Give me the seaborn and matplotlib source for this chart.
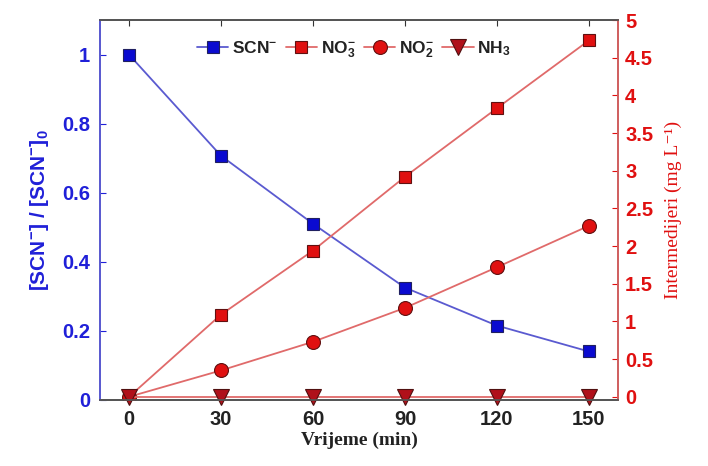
import numpy as np
import pandas as pd
import seaborn as sns
import matplotlib.pyplot as plt

# data
vrijeme = [0, 30, 60, 90, 120, 150]
scn = [1.0, 0.707, 0.51, 0.325, 0.215, 0.14]
no3 = [0.0, 1.09, 1.94, 2.92, 3.83, 4.73]
no2 = [0.0, 0.35, 0.73, 1.18, 1.72, 2.27]
nh3 = [0.0, 0.0, 0.0, 0.0, 0.0, 0.0]
x_ticks = [0, 30, 60, 90, 120, 150]
left_ticks = [0, 0.2, 0.4, 0.6, 0.8, 1.0]
right_ticks = [0, 0.5, 1, 1.5, 2, 2.5, 3, 3.5, 4, 4.5, 5]

sns.set_style("white")
plt.rcParams['font.family'] = ['Liberation Sans', 'DejaVu Sans']
plt.rcParams['mathtext.fontset'] = 'custom'
plt.rcParams['mathtext.rm'] = 'Liberation Sans:bold'
plt.rcParams['mathtext.it'] = 'Liberation Sans:bold'
plt.rcParams['mathtext.bf'] = 'Liberation Sans:bold'

blue = '#2020d8'
blue_line = '#5a5ad0'
red = '#e01010'
red_line = '#e06a6a'
dark_red = '#b0101a'

fig = plt.figure(figsize=(7.08, 4.66), dpi=100)
ax = fig.add_axes([0.141, 0.142, 0.732, 0.815])
ax2 = ax.twinx()

df = pd.DataFrame({'t': vrijeme, 'scn': scn, 'no3': no3, 'no2': no2, 'nh3': nh3})

sns.lineplot(data=df, x='t', y='scn', ax=ax, color=blue_line, lw=1.3,
             marker='s', markersize=8, markerfacecolor='#0a0ad0',
             markeredgecolor='#202060', markeredgewidth=0.8, label='SCN$^{-}$', legend=False)
sns.lineplot(data=df, x='t', y='no3', ax=ax2, color=red_line, lw=1.3,
             marker='s', markersize=8, markerfacecolor=red,
             markeredgecolor='#601010', markeredgewidth=0.8, label='NO$_3^{-}$', legend=False)
sns.lineplot(data=df, x='t', y='no2', ax=ax2, color=red_line, lw=1.3,
             marker='o', markersize=10, markerfacecolor=red,
             markeredgecolor='#601010', markeredgewidth=0.8, label='NO$_2^{-}$', legend=False)
sns.lineplot(data=df, x='t', y='nh3', ax=ax2, color=red_line, lw=1.3,
             marker='v', markersize=11, markerfacecolor=dark_red,
             markeredgecolor='#501010', markeredgewidth=0.8, label='NH$_3$', legend=False,
             clip_on=False)

ax.set_xlim(-9.5, 159.5)
ax.set_ylim(0, 1.1)
ax2.set_ylim(-0.04, 5)
ax.set_xticks(x_ticks)
ax.set_yticks(left_ticks)
ax.set_yticklabels(['0', '0.2', '0.4', '0.6', '0.8', '1'])
ax2.set_yticks(right_ticks)
ax2.set_yticklabels(['0', '0.5', '1', '1.5', '2', '2.5', '3', '3.5', '4', '4.5', '5'])

ax.tick_params(axis='x', direction='in', length=4, labelsize=14.5, top=True,
               colors='#333333', labelcolor='#222222', pad=7)
ax.tick_params(axis='y', direction='in', length=4, labelsize=14.5, colors=blue,
               labelcolor=blue, pad=7)
ax2.tick_params(axis='y', direction='in', length=4, labelsize=14.5, colors=red,
                labelcolor=red, pad=5)
for a in (ax, ax2):
    for lab in a.get_xticklabels() + a.get_yticklabels():
        lab.set_fontweight('bold')

for a in (ax, ax2):
    a.spines['top'].set_color('#555555')
    a.spines['bottom'].set_color('#555555')
    a.spines['left'].set_color(blue_line)
    a.spines['right'].set_color('#d06060')
    for s in a.spines.values():
        s.set_linewidth(1.3)

ax.set_xlabel('Vrijeme (min)', family='Liberation Serif', fontweight='bold',
              fontsize=14, color='#222222', labelpad=2)
ax.set_ylabel('[SCN$^{-}$] / [SCN$^{-}$]$_0$', fontweight='bold', fontsize=15,
              color=blue, labelpad=8)
ax2.set_ylabel('Intermedijeri (mg L\u207b\u00b9)', family=['Liberation Serif', 'DejaVu Serif'],
               fontsize=14, color=red, labelpad=8)

h1, l1 = ax.get_legend_handles_labels()
h2, l2 = ax2.get_legend_handles_labels()
leg = ax.legend(h1 + h2, l1 + l2, loc='upper center', bbox_to_anchor=(0.49, 0.99),
                ncol=4, frameon=False, fontsize=12.5, handlelength=1.8,
                handletextpad=0.2, columnspacing=0.5, markerscale=1.0)
for t in leg.get_texts():
    t.set_fontweight('bold')
    t.set_color('#222222')

fig.savefig('out.png', dpi=100)
